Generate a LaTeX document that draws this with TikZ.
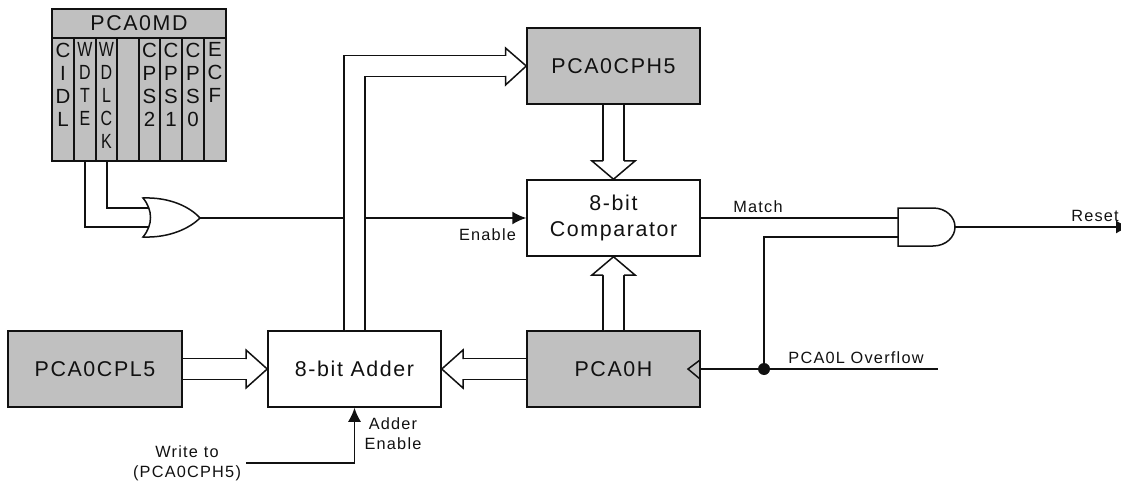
\documentclass[tikz,border=0pt]{standalone}
\usepackage{fontspec}
\usepackage{graphicx}
\usetikzlibrary{arrows.meta}
\setmainfont{Liberation Sans}
\newfontfamily\labfont[LetterSpace=7.5]{Liberation Sans}
\newcommand\bigf{\labfont\fontsize{21.4}{26}\selectfont}
\newcommand\smallf{\labfont\fontsize{16.3}{20}\selectfont}
\newcommand\colf{\fontsize{20.5}{23}\selectfont}
\newcommand\cz[1]{\scalebox{.78}[1]{#1}}
\definecolor{boxgray}{HTML}{C0C0C0}
\definecolor{ink}{HTML}{111111}
\tikzset{
  graybox/.style={draw=ink, fill=boxgray, minimum width=173pt, minimum height=76pt, inner sep=0pt, font=\bigf, text=ink, align=center},
  whitebox/.style={graybox, fill=white},
  lab/.style={inner sep=0pt, font=\smallf, text=ink, align=center},
  collab/.style={inner sep=0pt, font=\colf, text=ink, align=center, anchor=north},
  sig/.style={line width=1.5pt, draw=ink},
  sigarrow/.style={sig, -{Latex[length=14pt,width=13pt]}},
  buspath/.style={draw=ink, line width=1.5pt, double=white, double distance=19.5pt},
  bushead/.style={draw=ink, line width=1.5pt, fill=white, line join=miter},
}
\newcommand\pcacol[2]{\node[collab] (col#1) at (#1,42) {#2};}
\begin{document}
\begin{tikzpicture}[x=1pt,y=-1pt,line width=1.5pt,color=ink]
\useasboundingbox (0,0) rectangle (1121,481);

% PCA0MD register
\node[graybox, minimum width=174pt, minimum height=29pt, font=\bigf] (md) at (139,23.5) {PCA0MD};
\draw[fill=boxgray] (52,38) rectangle (226,161);
\foreach \x in {74,96,117,139,160,182,204} \draw[line width=1.6pt] (\x,38) -- (\x,161);
\pcacol{63}{C\\I\\D\\L}
\pcacol{85}{\cz{W}\\\cz{D}\\\cz{T}\\\cz{E}}
\pcacol{106.5}{\cz{W}\\\cz{D}\\\cz{L}\\\cz{C}\\\cz{K}}
\pcacol{149.5}{C\\P\\S\\2}
\pcacol{171}{C\\P\\S\\1}
\pcacol{193}{C\\P\\S\\0}
\pcacol{215}{E\\C\\F}
\coordinate (wdte) at (85,161);
\coordinate (wdlck) at (107,161);

% Boxes
\node[graybox] (cph5) at (613.5,66) {PCA0CPH5};
\node[whitebox] (comp) at (613.5,218) {8-bit\\Comparator};
\node[graybox] (pcah) at (613.5,369) {PCA0H};
\node[whitebox] (adder) at (354.5,369) {8-bit Adder};
\node[graybox, minimum width=174pt] (cpl5) at (95,369) {PCA0CPL5};

% OR gate
\coordinate (orA) at (150,208);
\coordinate (orB) at (150,227);
\coordinate (orOut) at (200,218);
\draw[sig] (wdlck) |- (orA);
\draw[sig] (wdte) |- (orB);
\draw[fill=white] (143,198) .. controls (170,197) and (190,207) .. (orOut)
  .. controls (190,228) and (170,238) .. (143,237)
  .. controls (153,225) and (153,210) .. cycle;

% Enable signal (passes behind the bus)
\draw[sigarrow] (orOut) -- (comp.west);

% Buses
\coordinate (h1) at (505.5,66);
\draw[buspath] (adder.north) |- (h1);
\draw[bushead] (505.5,56) -- (505.5,48) -- (cph5.west) -- (505.5,85) -- (505.5,76);

\coordinate (h2) at (613.5,161);
\draw[buspath] (cph5.south) -- (h2);
\draw[bushead] (603,161) -- (592,161) -- (comp.north) -- (635,161) -- (624,161);

\coordinate (h3) at (613.5,275);
\draw[buspath] (pcah.north) -- (h3);
\draw[bushead] (603,275) -- (592,275) -- (comp.south) -- (635,275) -- (624,275);

\coordinate (h4) at (246,369);
\draw[buspath] (cpl5.east) -- (h4);
\draw[bushead] (246,359) -- (246,350) -- (adder.west) -- (246,388) -- (246,379);

\coordinate (h5) at (463,369);
\draw[buspath] (pcah.west) -- (h5);
\draw[bushead] (463,359) -- (463,350) -- (adder.east) -- (463,388) -- (463,379);

% AND gate
\coordinate (andA) at (898,218);
\coordinate (andB) at (898,237);
\coordinate (andOut) at (955,227);
\coordinate (ovEnd) at (938,369);
\coordinate (jn) at (764,369);
\draw[sig] (comp.east |- andA) -- (andA);
\draw[sig] (jn) |- (andB);
\draw[fill=white] (898,208) -- (933,208) .. controls (946,208) and (955,217) .. (andOut)
  .. controls (955,237) and (946,246) .. (933,246) -- (898,246) -- cycle;
\coordinate (resetEnd) at (1130,227);
\begin{scope}
\clip (0,0) rectangle (1121,481);
\draw[sigarrow] (andOut) -- (resetEnd);
\end{scope}

% Overflow line and clock triangle
\draw[sig] (pcah.east) -- (ovEnd);
\fill[ink] (jn) circle (6pt);
\draw[line width=1.5pt, line join=miter] (700,360) -- (688,369) -- (700,379);

% Write-to signal
\coordinate (wr) at (246,463);
\draw[sigarrow] (wr) -| (adder.south);

% Labels
\node[lab] (lEnable) at (487.5,235) {Enable};
\node[lab] (lMatch) at (758,207) {Match};
\node[lab] (lReset) at (1095,216) {Reset};
\node[lab] (lOver) at (856,358) {PCA0L Overflow};
\node[lab] (lAdderEn) at (393,434) {Adder\\Enable};
\node[lab] (lWrite) at (187,463) {Write to\\(PCA0CPH5)};
\end{tikzpicture}
\end{document}
